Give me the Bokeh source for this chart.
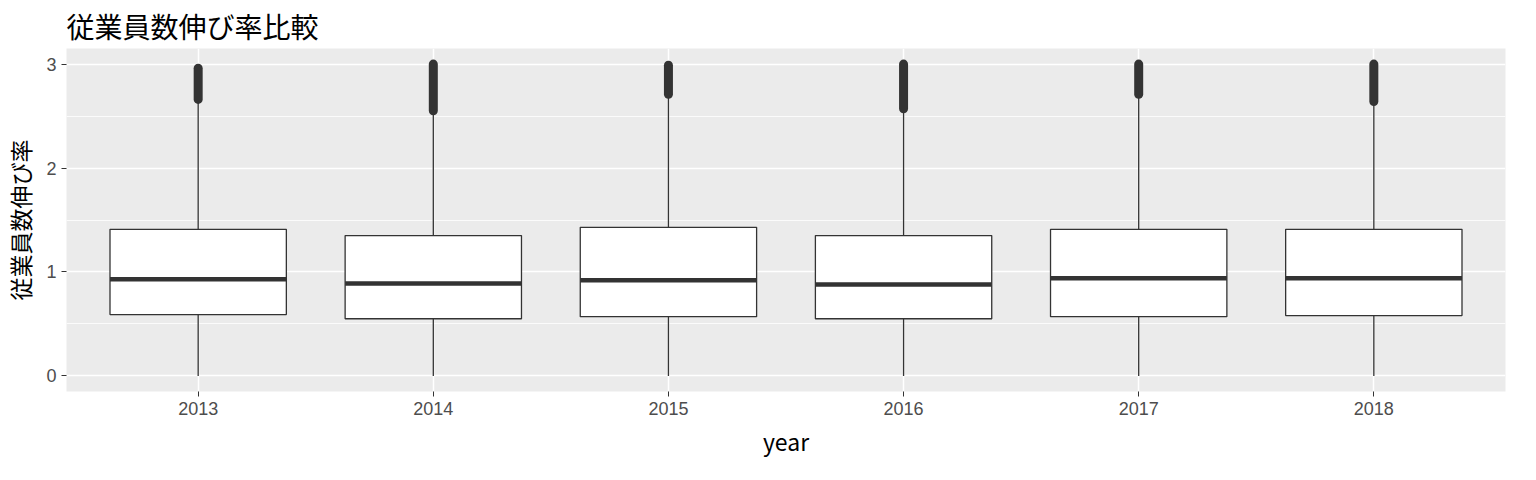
from bokeh.plotting import figure
from bokeh.embed import file_html
from bokeh.resources import INLINE
from bokeh.models import FactorRange, Range1d

years = ["2013", "2014", "2015", "2016", "2017", "2018"]
q1 = [0.59, 0.55, 0.57, 0.55, 0.57, 0.58]
med = [0.93, 0.89, 0.92, 0.88, 0.94, 0.94]
q3 = [1.41, 1.35, 1.43, 1.35, 1.41, 1.41]
whisk_lo = [0.0, 0.0, 0.0, 0.0, 0.0, 0.0]
whisk_hi = [2.64, 2.53, 2.69, 2.55, 2.69, 2.62]
out_lo = [2.66, 2.55, 2.71, 2.57, 2.71, 2.64]
out_hi = [2.96, 3.0, 2.99, 3.0, 3.0, 3.0]

FONT = "Noto Sans CJK JP"
p = figure(width=1520, height=460, x_range=FactorRange(*years, range_padding=0.02),
           y_range=Range1d(-0.15, 3.15), output_backend="svg", toolbar_location=None,
           title="従業員数伸び率比較", x_axis_label="year", y_axis_label="従業員数伸び率",
           min_border_left=14, min_border_right=15, min_border_top=10)
p.background_fill_color = "#EBEBEB"
p.outline_line_color = None
p.title.text_font = FONT
p.title.text_font_size = "28px"
p.title.text_font_style = "normal"
p.title.text_color = "black"
p.title.offset = 0
p.title.standoff = 6
for ax in (p.xaxis, p.yaxis):
    ax.axis_line_color = None
    ax.major_tick_line_color = "#333333"
    ax.major_tick_out = 5
    ax.major_tick_in = 0
    ax.minor_tick_line_color = None
    ax.major_label_text_font_size = "18px"
    ax.major_label_text_color = "#4D4D4D"
    ax.major_label_text_font = "Liberation Sans"
    ax.axis_label_text_font = FONT
    ax.axis_label_text_font_size = "23px"
    ax.axis_label_text_font_style = "normal"
    ax.axis_label_text_color = "black"
    ax.axis_label_standoff = 6
p.yaxis.ticker = [0, 1, 2, 3]
p.yaxis.ticker.minor_ticks = [0.5, 1.5, 2.5]
p.grid.grid_line_color = "white"
p.grid.grid_line_width = 1.5
p.ygrid.minor_grid_line_color = "white"
p.ygrid.minor_grid_line_width = 0.8

p.segment(x0=years, y0=whisk_lo, x1=years, y1=whisk_hi, line_color="#333333", line_width=1.3)
p.segment(x0=years, y0=out_lo, x1=years, y1=out_hi, line_color="#333333", line_width=9, line_cap="round")
p.vbar(x=years, bottom=q1, top=q3, width=0.75, fill_color="white", line_color="#333333", line_width=1.3)
p.vbar(x=years, bottom=med, top=med, width=0.75, line_color="#333333", line_width=4.5)

open("out.html", "w").write(file_html(p, INLINE))
